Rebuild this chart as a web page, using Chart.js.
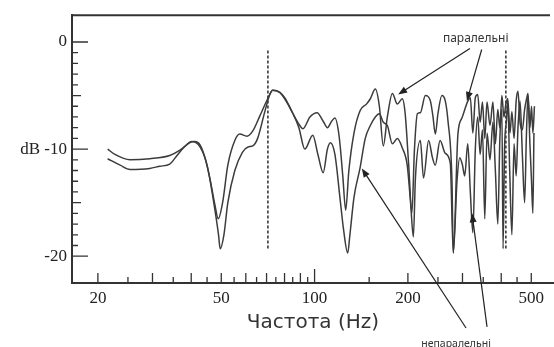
<!DOCTYPE html>
<html>
<head>
<meta charset="utf-8">
<script src="https://cdn.jsdelivr.net/npm/chart.js@4"></script>
<style>
  html, body { margin: 0; padding: 0; background: #fff; }
  #wrap { width: 554px; height: 347px; position: relative; }
</style>
</head>
<body>
<div id="wrap"><canvas id="freqChart"></canvas></div>
<script>
// upper curve (паралельні)
const freqParallel = [21.5, 22.7, 25.4, 29.4, 34.1, 36.8, 39.6, 41.1, 42.7, 44.3, 46.0, 47.7, 48.9, 50.5, 52.5, 55.3, 57.4, 60.5, 63.2, 66.6,
  70.6, 73.3, 77.2, 80.1, 85.2, 89.6, 91.7, 96.6, 101.9, 106.6, 110.0, 113.5, 116.3, 120.0, 123.3, 126.0, 129.0, 134.0, 140.3, 147.0,
  151.3, 157.0, 161.8, 166.6, 171.7, 178.2, 184.9, 191.9, 196.0, 201.0, 206.0, 210.0, 214.6, 219.4, 227.7, 236.3, 240.8, 245.2, 250.0, 257.4,
  264.0, 269.2, 277.4, 280.2, 290.0, 298.8, 312.4, 318, 324, 330, 336, 342, 348, 354, 360, 368, 376, 383, 390, 396,
  402, 408, 414, 420, 427, 433, 440, 447, 453, 460, 468, 476, 483, 488, 495, 501, 506, 512];
const dbParallel = [-10.0, -10.5, -11.0, -10.9, -10.6, -10.1, -9.4, -9.3, -9.6, -10.8, -12.8, -15.2, -16.5, -15.0, -11.5, -9.2, -8.6, -8.8, -8.3, -6.9,
  -5.3, -4.5, -4.7, -5.2, -6.7, -7.8, -8.1, -7.0, -6.6, -7.4, -8.0, -7.4, -7.1, -8.8, -12.5, -15.7, -12.0, -8.5, -6.4, -5.8,
  -5.3, -4.4, -6.0, -9.7, -7.0, -4.8, -5.8, -5.3, -6.7, -11.3, -16.0, -10.0, -6.7, -6.6, -5.0, -5.5, -6.9, -8.6, -6.7, -5.0,
  -5.5, -7.3, -12.9, -19.7, -8.6, -7.1, -5.5, -5.2, -8.5, -5.2, -4.9, -7.5, -5.6, -9.0, -5.6, -7.8, -5.6, -9.5, -6.3, -8.0,
  -5.0, -7.0, -5.8, -5.3, -8.5, -6.5, -9.0, -5.5, -4.6, -7.5, -8.2, -6.3, -5.3, -4.8, -8.0, -6.0, -8.5, -6.0];

// lower curve (непаралельні)
const freqNonParallel = [21.5, 23.6, 25.4, 29.4, 31.7, 34.1, 36.0, 38.0, 40.2, 42.7, 45.0, 47.0, 49.0, 49.6, 51.0, 52.5, 55.3, 58.5, 61.0, 63.2,
  65.5, 69.1, 71.5, 73.3, 77.2, 80.1, 85.2, 89.0, 93.0, 98.7, 102.5, 106.6, 110.0, 112.5, 116.3, 120.7, 124.0, 127.9, 130.0, 134.0,
  140.3, 145.7, 151.3, 157.0, 161.8, 166.6, 171.7, 178.2, 185.0, 191.9, 199.0, 204.0, 208.3, 211.5, 219.4, 224.6, 233.3, 240.0, 245.0, 254.0,
  264.0, 274.0, 280.2, 288.0, 294.0, 300, 305, 312, 318, 324, 330, 336, 342, 348, 354, 360, 368, 376, 383, 390,
  396, 402, 405.5, 410, 416, 420, 426, 433, 440, 447, 453, 460, 468, 476, 482, 488, 495, 501, 506, 510];
const dbNonParallel = [-10.9, -11.5, -11.9, -11.8, -11.6, -11.4, -10.6, -9.8, -9.3, -9.8, -11.5, -14.5, -18.0, -19.3, -18.0, -15.0, -12.0, -10.3, -9.8, -9.7,
  -9.0, -6.5, -5.0, -4.5, -4.7, -5.3, -6.7, -8.0, -10.0, -8.7, -10.5, -12.2, -10.0, -9.4, -10.5, -14.5, -17.5, -19.7, -18.0, -14.5,
  -11.7, -9.0, -7.8, -7.0, -6.7, -7.5, -7.8, -9.5, -9.0, -9.9, -11.5, -15.0, -18.2, -12.7, -9.2, -12.7, -9.2, -10.8, -11.5, -9.2,
  -10.4, -11.3, -19.7, -13.0, -10.8, -11.5, -12.5, -9.5, -14.0, -17.8, -10.0, -7.0, -10.5, -8.2, -16.5, -8.5, -11.0, -7.5, -12.0, -17.0,
  -9.0, -6.3, -19.3, -10.0, -7.3, -5.5, -12.0, -18.0, -9.5, -12.5, -8.0, -5.5, -10.5, -15.0, -9.0, -5.0, -9.5, -13.0, -16.0, -8.5];

// dashed markers
const markerFreqs = [70.7, 414];
const markerTop = -0.8;
const markerBottom = -19.4;

// axes
const xLabelTicks = [20, 50, 100, 200, 500];
const xTickMarks = [20, 25, 30, 35, 40, 45, 50, 55, 60, 65, 70, 75, 80, 85, 90, 95, 100, 150, 200, 250, 300, 350, 400, 450, 500];
const yLabelTicks = [0, -10, -20];
const yTickMarks = [0, -1, -2, -3, -4, -5, -6, -7, -8, -9, -10, -11, -12, -13, -14, -15, -16, -17, -18, -19, -20];

// annotation texts and arrows, in (Hz, dB)
const noteLabels = [
  { text: "паралельні", f: 331, db: 0.3, size: 12 },
  { text: "непаралельні", f: 286, db: -28.2, size: 10.5 },
];
const noteArrows = [
  { from: [317, -0.6], to: [186, -4.9] },
  { from: [346, -0.7], to: [310, -5.5] },
  { from: [308, -26.7], to: [142, -11.8] },
  { from: [360, -26.6], to: [322, -16.0] },
];

const lineColor = "#3c3c3c";

const toPoints = (xs, ys) => xs.map((x, i) => ({ x: x, y: ys[i] }));

const datasets = [
  {
    label: "паралельні",
    data: toPoints(freqParallel, dbParallel),
    borderColor: lineColor,
    borderWidth: 1.5,
    pointRadius: 0,
    cubicInterpolationMode: "monotone",
  },
  {
    label: "непаралельні",
    data: toPoints(freqNonParallel, dbNonParallel),
    borderColor: lineColor,
    borderWidth: 1.5,
    pointRadius: 0,
    cubicInterpolationMode: "monotone",
  },
];
markerFreqs.forEach((f) => {
  datasets.push({
    label: "marker",
    data: [{ x: f, y: markerTop }, { x: f, y: markerBottom }],
    borderColor: "#444",
    borderWidth: 1.7,
    borderDash: [3, 2],
    pointRadius: 0,
  });
});

// frame top line + inward tick marks
const frameTicks = {
  id: "frameTicks",
  afterDraw(chart) {
    const { ctx, chartArea, scales } = chart;
    ctx.save();
    ctx.strokeStyle = "#333";
    ctx.lineWidth = 2;
    ctx.beginPath();
    ctx.moveTo(chartArea.left, chartArea.top);
    ctx.lineTo(chartArea.right - 4, chartArea.top);
    ctx.stroke();

    ctx.lineWidth = 1.3;
    ctx.beginPath();
    xTickMarks.forEach((v) => {
      const px = scales.x.getPixelForValue(v);
      let len = 6;
      if (v === 100) len = 14;
      else if ((v < 100 && v % 10 === 0) || v % 100 === 0) len = 10;
      ctx.moveTo(px, chartArea.bottom);
      ctx.lineTo(px, chartArea.bottom - len);
    });
    yTickMarks.forEach((v) => {
      const py = scales.y.getPixelForValue(v);
      let len = 6;
      if (v % 10 === 0) len = 16;
      else if (v % 5 === 0) len = 9;
      ctx.moveTo(chartArea.left, py);
      ctx.lineTo(chartArea.left + len, py);
    });
    ctx.stroke();
    ctx.restore();
  },
};

// labels with arrows
const notes = {
  id: "notes",
  afterDraw(chart) {
    const { ctx, scales } = chart;
    const X = (f) => scales.x.getPixelForValue(f);
    const Y = (d) => scales.y.getPixelForValue(d);
    ctx.save();
    ctx.fillStyle = "#333";
    ctx.textAlign = "center";
    ctx.textBaseline = "middle";
    noteLabels.forEach((n) => {
      ctx.font = n.size + "px 'Noto Sans', sans-serif";
      ctx.fillText(n.text, X(n.f), Y(n.db));
    });
    ctx.strokeStyle = "#222";
    ctx.fillStyle = "#222";
    ctx.lineWidth = 1.2;
    noteArrows.forEach((a) => {
      const x1 = X(a.from[0]), y1 = Y(a.from[1]);
      const x2 = X(a.to[0]), y2 = Y(a.to[1]);
      const ang = Math.atan2(y2 - y1, x2 - x1);
      ctx.beginPath();
      ctx.moveTo(x1, y1);
      ctx.lineTo(x2 - 6 * Math.cos(ang), y2 - 6 * Math.sin(ang));
      ctx.stroke();
      ctx.beginPath();
      ctx.moveTo(x2, y2);
      ctx.lineTo(x2 - 9 * Math.cos(ang) + 3.5 * Math.sin(ang), y2 - 9 * Math.sin(ang) - 3.5 * Math.cos(ang));
      ctx.lineTo(x2 - 9 * Math.cos(ang) - 3.5 * Math.sin(ang), y2 - 9 * Math.sin(ang) + 3.5 * Math.cos(ang));
      ctx.closePath();
      ctx.fill();
    });
    ctx.restore();
  },
};

const serif = { family: "'Liberation Serif', 'DejaVu Serif', serif", size: 17 };

new Chart(document.getElementById("freqChart").getContext("2d"), {
  type: "line",
  data: { datasets: datasets },
  options: {
    responsive: true,
    maintainAspectRatio: false,
    animation: false,
    layout: { padding: { top: 14, right: 0, left: 0, bottom: 0 } },
    plugins: { legend: { display: false }, tooltip: { enabled: false } },
    scales: {
      x: {
        type: "logarithmic",
        min: 16.5,
        max: 592,
        grid: { display: false, drawTicks: false },
        border: { display: true, color: "#333", width: 2 },
        ticks: {
          font: serif,
          color: "#222",
          padding: 5,
          maxRotation: 0,
          autoSkip: false,
          callback: (value) => String(value),
        },
        afterBuildTicks: (scale) => {
          scale.ticks = xLabelTicks.map((v) => ({ value: v }));
        },
        afterFit: (scale) => {
          scale.height = 64;
        },
        title: {
          display: true,
          text: "Частота (Hz)",
          color: "#333",
          font: { family: "'DejaVu Sans', sans-serif", size: 20 },
          padding: { top: 0, bottom: 12 },
        },
      },
      y: {
        type: "linear",
        min: -22.5,
        max: 2.5,
        grid: { display: false, drawTicks: false },
        border: { display: true, color: "#333", width: 2 },
        ticks: {
          font: serif,
          color: "#222",
          padding: 5,
          callback: (value) => (value === -10 ? "dB -10" : String(value)),
        },
        afterBuildTicks: (scale) => {
          scale.ticks = yLabelTicks.map((v) => ({ value: v }));
        },
        afterFit: (scale) => {
          scale.width = 72;
        },
      },
    },
  },
  plugins: [frameTicks, notes],
});
</script>
</body>
</html>
